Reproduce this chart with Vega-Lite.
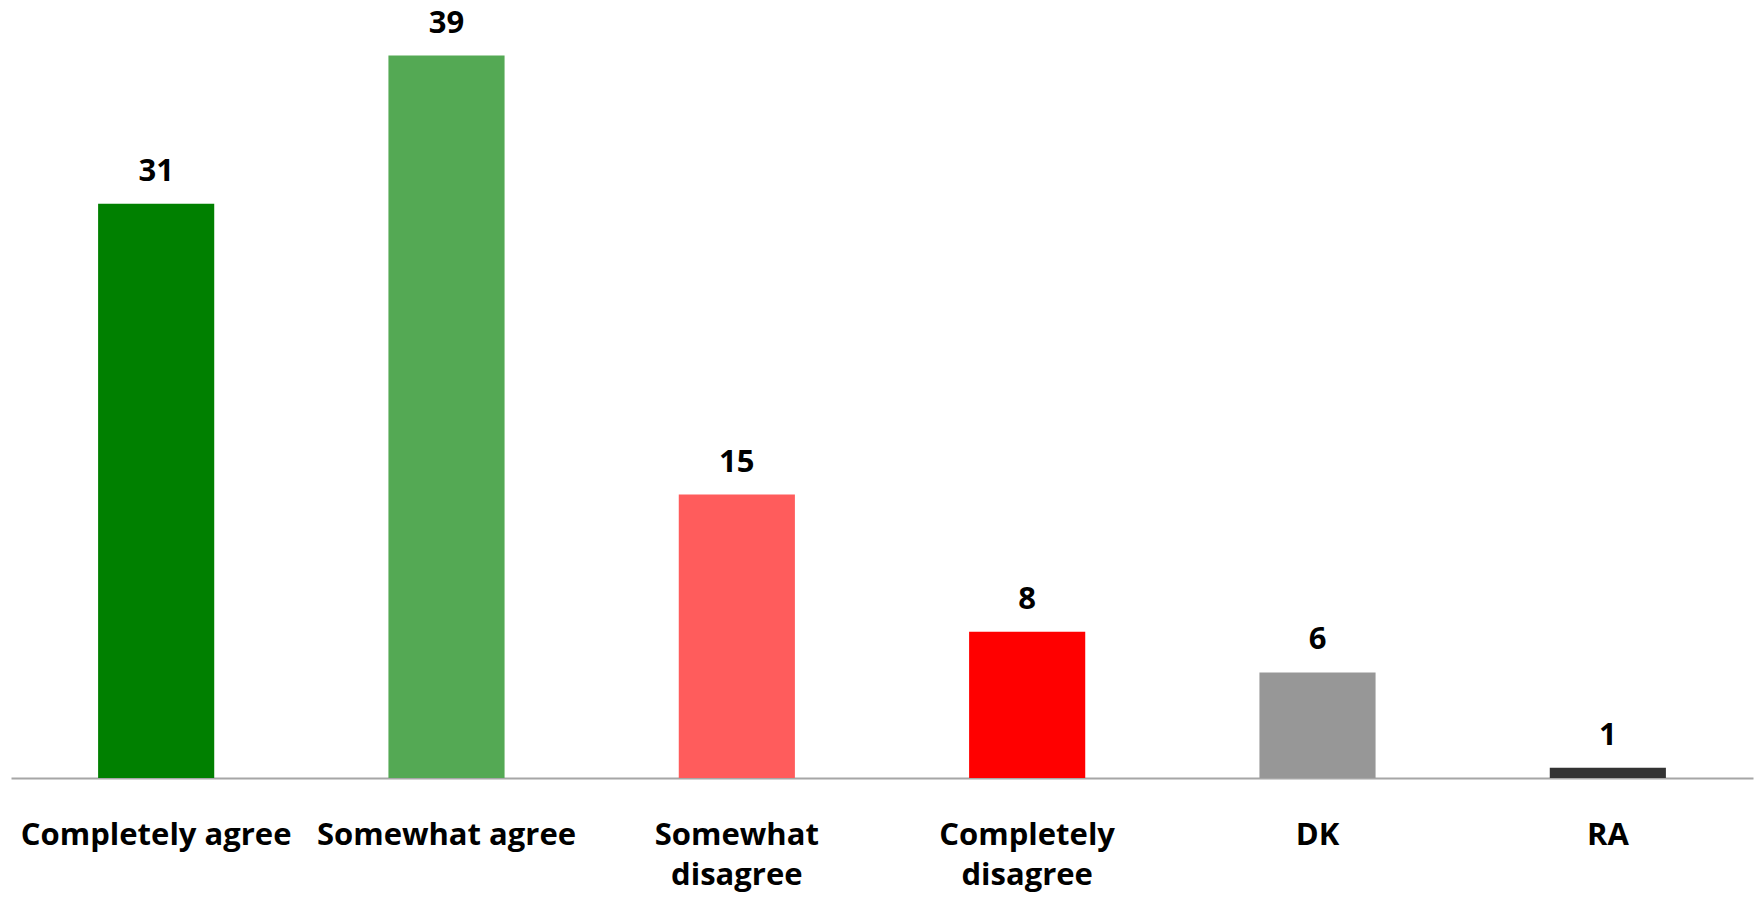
{
  "$schema": "https://vega.github.io/schema/vega-lite/v6.json",
  "width": 1742,
  "height": 778,
  "padding": {"left": 11, "top": 0, "right": 7, "bottom": 125},
  "autosize": {"type": "none"},
  "background": "white",
  "config": {"view": {"stroke": null}, "font": "Open Sans"},
  "data": {
    "values": [
      {"response": "Completely agree", "pct": 31, "color": "#008000"},
      {"response": "Somewhat agree", "pct": 39, "color": "#54a954"},
      {"response": "Somewhat disagree", "pct": 15.3, "color": "#ff5c5c"},
      {"response": "Completely disagree", "pct": 7.9, "color": "#ff0000"},
      {"response": "DK", "pct": 5.7, "color": "#979797"},
      {"response": "RA", "pct": 0.55, "color": "#333333"}
    ]
  },
  "encoding": {
    "x": {
      "field": "response",
      "type": "nominal",
      "sort": null,
      "scale": {"paddingInner": 0.6, "paddingOuter": 0.3},
      "axis": {
        "title": null,
        "labelAngle": 0,
        "labelFont": "Open Sans",
        "labelFontSize": 31,
        "labelFontWeight": "bold",
        "labelColor": "#000000",
        "labelLimit": 0,
        "labelPadding": 42,
        "labelLineHeight": 40,
        "ticks": false,
        "domainColor": "#a6a6a6",
        "domainWidth": 2,
        "labelExpr": "datum.label == 'Somewhat disagree' ? ['Somewhat', 'disagree'] : datum.label == 'Completely disagree' ? ['Completely', 'disagree'] : datum.label"
      }
    },
    "y": {
      "field": "pct",
      "type": "quantitative",
      "scale": {"domain": [0, 42], "nice": false},
      "axis": null
    }
  },
  "layer": [
    {
      "mark": {"type": "bar"},
      "encoding": {
        "color": {"field": "color", "type": "nominal", "scale": null}
      }
    },
    {
      "mark": {"type": "text", "baseline": "alphabetic", "dy": -23, "font": "Open Sans", "fontSize": 31, "fontWeight": "bold", "color": "#000000"},
      "encoding": {"text": {"field": "pct", "type": "quantitative", "format": ".0f"}}
    }
  ]
}
